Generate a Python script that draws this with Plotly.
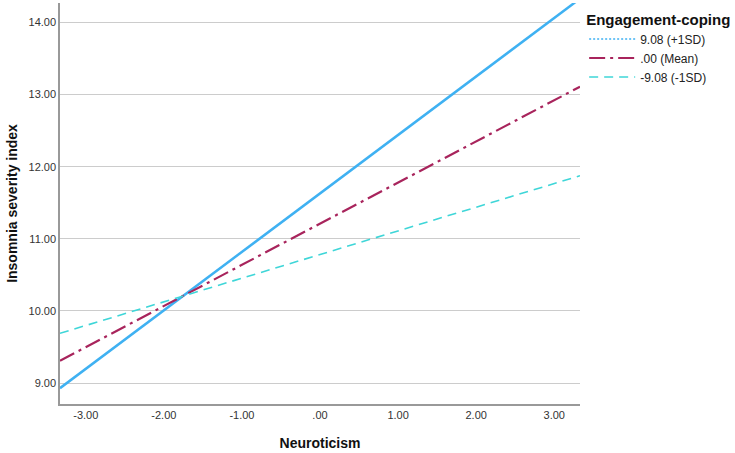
import plotly.graph_objects as go

# Data (simple slopes)
neuroticism = [-3.33, 3.33]
plus_1sd = [8.93, 14.33]
mean_line = [9.31, 13.11]
minus_1sd = [9.69, 11.875]
series_names = ["9.08 (+1SD)", ".00 (Mean)", "-9.08 (-1SD)"]
y_ticks = [9, 10, 11, 12, 13, 14]
y_tick_text = ["9.00", "10.00", "11.00", "12.00", "13.00", "14.00"]
x_ticks = [-3, -2, -1, 0, 1, 2, 3]
x_tick_text = ["-3.00", "-2.00", "-1.00", ".00", "1.00", "2.00", "3.00"]

BLUE = "#3fb1f2"
RED = "#a8245c"
CYAN = "#3fd6d8"

fig = go.Figure()
# +1SD drawn solid, legend shows dotted (as in original)
fig.add_trace(go.Scatter(x=neuroticism, y=plus_1sd, mode="lines",
                         line=dict(color=BLUE, width=2.5), showlegend=False,
                         hoverinfo="skip"))
fig.add_trace(go.Scatter(x=[None], y=[None], mode="lines", name=series_names[0],
                         line=dict(color=BLUE, width=1.5, dash="2px,2px")))
fig.add_trace(go.Scatter(x=neuroticism, y=mean_line, mode="lines", name=series_names[1],
                         line=dict(color=RED, width=2.2, dash="16px,5px,3px,5px")))
fig.add_trace(go.Scatter(x=neuroticism, y=minus_1sd, mode="lines", name=series_names[2],
                         line=dict(color=CYAN, width=1.6, dash="9px,6px")))

fig.update_layout(
    width=735, height=453,
    margin=dict(l=60, r=155, t=3, b=49, autoexpand=False),
    plot_bgcolor="white", paper_bgcolor="white",
    font=dict(family="Liberation Sans, Arial, sans-serif", color="#222"),
    legend=dict(
        title=dict(text="<b>Engagement-coping</b>", font=dict(size=15, color="#111")),
        x=1.008, y=0.995, xanchor="left", yanchor="top",
        font=dict(size=12, color="#222"), tracegroupgap=0,
        itemwidth=46,
    ),
    xaxis=dict(
        range=[-3.33, 3.33], tickvals=x_ticks, ticktext=x_tick_text,
        showgrid=False, zeroline=False, showline=True, linecolor="#999", linewidth=1.5,
        ticks="", tickfont=dict(size=11, color="#333"),
        title=dict(text="<b>Neuroticism</b>", font=dict(size=14, color="#111"), standoff=18),
    ),
    yaxis=dict(
        range=[8.71, 14.27], tickvals=y_ticks, ticktext=y_tick_text,
        showgrid=True, gridcolor="#cccccc", gridwidth=1.2, zeroline=False,
        showline=True, linecolor="#999", linewidth=1.5,
        ticks="", tickfont=dict(size=11, color="#333"),
        title=dict(text="<b>Insomnia severity index</b>", font=dict(size=14, color="#111"), standoff=8),
    ),
)

fig.write_html("out.html", config={"displayModeBar": False},
               post_script="document.body.style.margin='0';")
